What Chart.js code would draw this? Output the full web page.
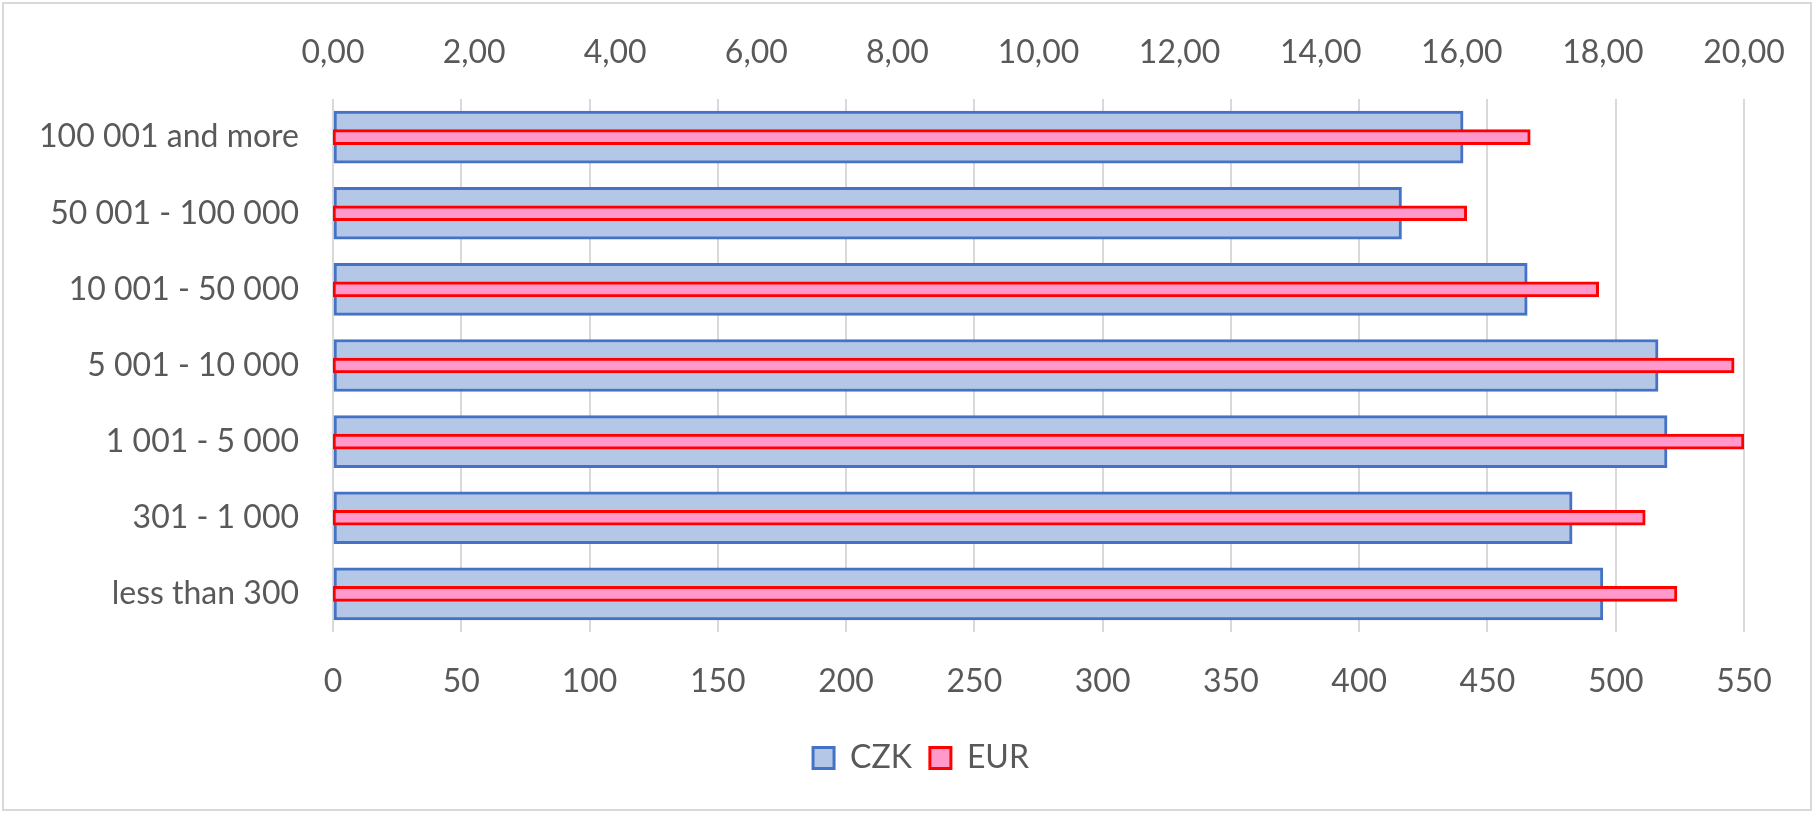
<!DOCTYPE html>
<html lang="en">
<head>
    <meta charset="UTF-8">
    <title>CZK / EUR by size group</title>
    <script src="https://cdn.jsdelivr.net/npm/chart.js"></script>
    <style>
        body { margin: 0; background: #fff; }
        #frame { position: absolute; left: 2px; top: 2px; width: 1806px; height: 805px; border: 2px solid #d9d9d9; }
        #chart { position: absolute; left: 0; top: 0; }
    </style>
</head>
<body>
    <div id="frame"></div>
    <canvas id="chart" width="1813" height="813"></canvas>

    <script>
        // data
        const groups = ["100 001 and more", "50 001 - 100 000", "10 001 - 50 000", "5 001 - 10 000", "1 001 - 5 000", "301 - 1 000", "less than 300"];
        const czkValues = [440.5, 416.5, 465.5, 516.5, 520, 483, 495];
        const eurValues = [16.97, 16.07, 17.94, 19.86, 20.0, 18.6, 19.05];
        const czkTicks = { min: 0, max: 550, step: 50 };
        const eurTicks = { min: 0, max: 20, step: 2 };

        const textColor = "#595959";
        const font = { family: "Lato", size: 32 };

        // the legend in the original sits a bit right of centre and lower down
        const moveLegend = {
            id: "moveLegend",
            afterLayout(chart) {
                const lg = chart.legend;
                lg.left += 49; lg.right += 49;
                lg.top += 26; lg.bottom += 26;
            }
        };

        new Chart(document.getElementById("chart").getContext("2d"), {
            type: "bar",
            data: {
                labels: groups,
                datasets: [
                    {
                        label: "CZK",
                        data: czkValues,
                        xAxisID: "x",
                        backgroundColor: "#b4c7e7",
                        borderColor: "#4472c4",
                        borderWidth: 3,
                        borderSkipped: false,
                        barThickness: 52,
                        grouped: false,
                        order: 2
                    },
                    {
                        label: "EUR",
                        data: eurValues,
                        xAxisID: "x2",
                        backgroundColor: "#ff99cc",
                        borderColor: "#ff0000",
                        borderWidth: 3,
                        borderSkipped: false,
                        barThickness: 15,
                        grouped: false,
                        order: 1
                    }
                ]
            },
            plugins: [moveLegend],
            options: {
                indexAxis: "y",
                responsive: false,
                devicePixelRatio: 1,
                animation: false,
                layout: { padding: { left: 0, top: 0, right: 69, bottom: 55 } },
                scales: {
                    x: {
                        position: "bottom",
                        min: czkTicks.min,
                        max: czkTicks.max,
                        ticks: { stepSize: czkTicks.step, padding: 34, color: textColor, font: { family: "Lato", size: 32, lineHeight: 1 } },
                        grid: { color: "#d9d9d9", lineWidth: 2, drawTicks: false },
                        border: { display: false },
                        afterFit: s => { s.height = 66; }
                    },
                    x2: {
                        position: "top",
                        min: eurTicks.min,
                        max: eurTicks.max,
                        ticks: {
                            stepSize: eurTicks.step, padding: 27, color: textColor, font: font,
                            callback: v => v.toFixed(2).replace(".", ",")
                        },
                        grid: { display: false, drawTicks: false },
                        border: { display: false },
                        afterFit: s => { s.height = 99; }
                    },
                    y: {
                        ticks: { padding: 34, color: textColor, font: font },
                        grid: { display: false, drawTicks: false },
                        border: { display: false },
                        afterFit: s => { s.width = 333; }
                    }
                },
                plugins: {
                    legend: {
                        position: "bottom",
                        reverse: true,
                        labels: { color: textColor, font: font, boxWidth: 21, boxHeight: 21, padding: 18 }
                    },
                    tooltip: { enabled: false }
                }
            }
        });
    </script>
</body>
</html>
